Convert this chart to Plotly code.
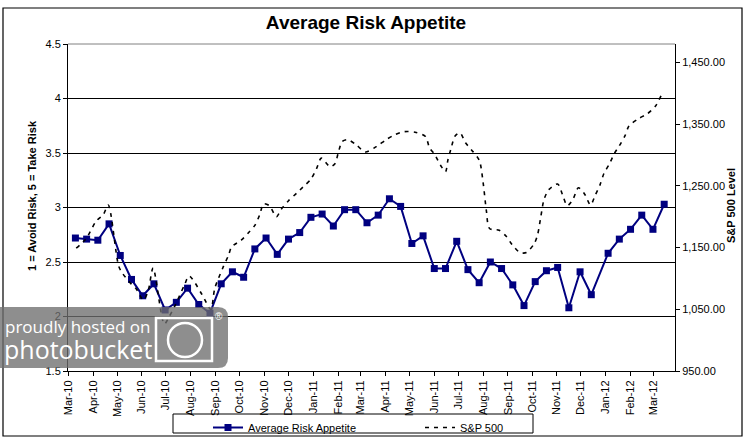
import plotly.graph_objects as go

# ---------------- data ----------------
risk_dates = [
    "2010-03-10", "2010-03-24", "2010-04-07", "2010-04-21", "2010-05-05", "2010-05-19",
    "2010-06-02", "2010-06-16", "2010-06-30", "2010-07-14", "2010-07-28", "2010-08-11",
    "2010-08-25", "2010-09-08", "2010-09-22", "2010-10-06", "2010-10-20", "2010-11-03",
    "2010-11-17", "2010-12-01", "2010-12-15", "2010-12-29",
    "2011-01-12", "2011-01-26", "2011-02-09", "2011-02-23", "2011-03-09", "2011-03-23",
    "2011-04-06", "2011-04-20", "2011-05-04", "2011-05-18", "2011-06-01", "2011-06-15",
    "2011-06-29", "2011-07-13", "2011-07-27", "2011-08-10", "2011-08-24", "2011-09-07",
    "2011-09-21", "2011-10-05", "2011-10-19", "2011-11-02", "2011-11-16", "2011-11-30",
    "2011-12-14",
    "2012-01-04", "2012-01-18", "2012-02-01", "2012-02-15", "2012-02-29", "2012-03-14",
]
risk_values = [
    2.72, 2.71, 2.70, 2.85, 2.56, 2.34, 2.19, 2.30, 2.06, 2.13, 2.26, 2.11,
    2.03, 2.30, 2.41, 2.36, 2.62, 2.72, 2.57, 2.71, 2.77, 2.91,
    2.94, 2.83, 2.98, 2.98, 2.86, 2.93, 3.08, 3.01, 2.67, 2.74, 2.44, 2.44,
    2.69, 2.43, 2.31, 2.50, 2.44, 2.29, 2.10, 2.32, 2.42, 2.45, 2.08, 2.41,
    2.20,
    2.58, 2.71, 2.80, 2.93, 2.80, 3.03,
]

sp_dates = [
    "2010-03-11", "2010-03-23", "2010-04-05", "2010-04-14", "2010-04-20", "2010-05-03",
    "2010-05-08", "2010-05-18", "2010-05-25", "2010-06-03", "2010-06-09", "2010-06-15",
    "2010-06-29", "2010-07-05", "2010-07-12", "2010-07-24", "2010-07-30", "2010-08-15",
    "2010-08-26", "2010-08-31", "2010-09-10", "2010-09-17", "2010-09-21", "2010-10-03",
    "2010-10-12", "2010-10-20", "2010-10-26", "2010-10-31", "2010-11-07", "2010-11-16",
    "2010-11-22", "2010-12-01", "2010-12-11", "2010-12-19", "2010-12-29", "2011-01-05",
    "2011-01-11", "2011-01-22", "2011-01-28", "2011-02-01", "2011-02-06", "2011-02-13",
    "2011-02-24", "2011-03-07", "2011-03-21", "2011-04-02", "2011-04-13", "2011-04-25",
    "2011-05-08", "2011-05-21", "2011-05-26", "2011-06-02", "2011-06-09", "2011-06-15",
    "2011-06-18", "2011-06-22", "2011-06-27", "2011-07-03", "2011-07-10", "2011-07-17",
    "2011-07-27", "2011-08-01", "2011-08-05", "2011-08-09", "2011-08-21", "2011-08-30",
    "2011-09-06", "2011-09-16", "2011-09-24", "2011-10-04", "2011-10-08", "2011-10-12",
    "2011-10-16", "2011-10-22", "2011-11-02", "2011-11-08", "2011-11-14", "2011-11-21",
    "2011-11-28", "2011-12-06", "2011-12-13", "2011-12-19", "2011-12-25", "2011-12-30",
    "2012-01-05", "2012-01-12", "2012-01-18", "2012-01-25", "2012-01-30", "2012-02-11",
    "2012-02-22", "2012-03-03", "2012-03-10",
]
sp_values = [
    1149, 1164, 1193, 1204, 1219, 1120,
    1108, 1092, 1083, 1065, 1081, 1117,
    1026, 1038, 1055, 1089, 1104, 1074,
    1050, 1084, 1117, 1137, 1151, 1162,
    1174, 1186, 1203, 1221, 1218, 1200,
    1212, 1226, 1238, 1248, 1261, 1278,
    1295, 1281, 1286, 1303, 1322, 1325,
    1316, 1305, 1314, 1325, 1333, 1338,
    1337, 1330, 1312, 1300, 1283, 1273,
    1292, 1311, 1331, 1336, 1320, 1309,
    1292, 1255, 1210, 1181, 1178, 1168,
    1155, 1142, 1142, 1157, 1171, 1200,
    1228, 1244, 1253, 1236, 1218, 1228,
    1247, 1236, 1219, 1235, 1252, 1271,
    1284, 1303, 1315, 1331, 1347, 1359,
    1367, 1379, 1396,
]

left_ticks = [1.5, 2, 2.5, 3, 3.5, 4, 4.5]
right_ticks = [950, 1050, 1150, 1250, 1350, 1450]

title_text = "Average Risk Appetite"
left_title = "1 = Avoid Risk, 5 = Take Risk"
right_title = "S&P 500 Level"
risk_name = "Average Risk Appetite"
sp_name = "S&P 500"

# ---------------- layout helpers ----------------
W, H = 746, 438
L, R, T, B = 68, 675, 44, 371
FONT = "Liberation Sans, Arial, sans-serif"


def px(x):
    return (x - L) / (R - L)


def py(y):
    return (B - y) / (B - T)


fig = go.Figure()

fig.add_trace(go.Scatter(
    x=risk_dates, y=risk_values, name=risk_name, mode="lines+markers",
    line=dict(color="#000080", width=2),
    marker=dict(symbol="square", size=7, color="#000080"),
    yaxis="y",
))
fig.add_trace(go.Scatter(
    x=sp_dates, y=sp_values, name=sp_name, mode="lines",
    line=dict(color="black", width=1.6, dash="4px,5px", shape="spline", smoothing=0.8),
    yaxis="y2",
))

shapes = []
# outer chart border
shapes.append(dict(type="rect", xref="paper", yref="paper",
                   x0=px(3), x1=px(742), y0=py(436), y1=py(8),
                   line=dict(color="black", width=1.2), layer="below"))
# gray plot-area top border
shapes.append(dict(type="line", xref="paper", yref="paper",
                   x0=0, x1=1, y0=1, y1=1, line=dict(color="#808080", width=1), layer="above"))
# legend box
shapes.append(dict(type="rect", xref="paper", yref="paper",
                   x0=px(173), x1=px(533), y0=py(433), y1=py(414),
                   line=dict(color="black", width=1), fillcolor="white", layer="below"))
# photobucket watermark
rr = 10
path = (f"M {px(-5)},{py(307)} L {px(228 - rr)},{py(307)} "
        f"Q {px(228)},{py(307)} {px(228)},{py(307 + rr)} "
        f"L {px(228)},{py(368 - rr)} Q {px(228)},{py(368)} {px(228 - rr)},{py(368)} "
        f"L {px(-5)},{py(368)} Z")
shapes.append(dict(type="path", xref="paper", yref="paper", path=path,
                   fillcolor="rgba(110,110,110,0.78)", line=dict(width=0), layer="above"))
shapes.append(dict(type="rect", xref="paper", yref="paper",
                   x0=px(156), x1=px(212), y0=py(361), y1=py(318),
                   line=dict(color="white", width=2.5), layer="above"))
shapes.append(dict(type="circle", xref="paper", yref="paper",
                   x0=px(168), x1=px(202), y0=py(357), y1=py(323),
                   line=dict(color="white", width=2.5), layer="above"))

annotations = [
    dict(text=f"<b>{left_title}</b>", xref="paper", yref="paper", x=px(32), y=py(196),
         xanchor="center", yanchor="middle",
         textangle=-90, showarrow=False, font=dict(family=FONT, size=11, color="black")),
    dict(text=f"<b>{right_title}</b>", xref="paper", yref="paper", x=px(731), y=py(206),
         xanchor="center", yanchor="middle",
         textangle=-90, showarrow=False, font=dict(family=FONT, size=11, color="black")),
    dict(text="proudly hosted on", xref="paper", yref="paper", x=px(3), y=py(326),
         xanchor="left", yanchor="middle", showarrow=False,
         font=dict(family="Open Sans, sans-serif", size=17, color="white")),
    dict(text="photobucket", xref="paper", yref="paper", x=px(2), y=py(349),
         xanchor="left", yanchor="middle", showarrow=False,
         font=dict(family="Open Sans, sans-serif", size=25, color="white")),
    dict(text="®", xref="paper", yref="paper", x=px(219), y=py(316),
         xanchor="center", yanchor="middle",
         showarrow=False, font=dict(family=FONT, size=10, color="white")),
]

fig.update_layout(
    width=W, height=H,
    margin=dict(l=L, r=W - R, t=T, b=H - B, pad=0, autoexpand=False),
    paper_bgcolor="white", plot_bgcolor="white",
    font=dict(family=FONT, size=11, color="black"),
    title=dict(text=f"<b>{title_text}</b>", x=366 / W, xanchor="center",
               y=1 - 22 / H, yanchor="middle",
               font=dict(family=FONT, size=19, color="black")),
    showlegend=True,
    legend=dict(orientation="h", x=px(208), xanchor="left", y=py(413), yanchor="top",
                bgcolor="rgba(0,0,0,0)", borderwidth=0, entrywidth=167,
                entrywidthmode="pixels", font=dict(family=FONT, size=11, color="black")),
    xaxis=dict(type="date", range=["2010-02-28 18:00", "2012-03-27 12:00"],
               tick0="2010-03-01", dtick="M1", tickformat="%b-%y", tickangle=-90,
               showgrid=False, showline=True, linecolor="black", linewidth=1,
               ticks="outside", ticklen=4, tickcolor="black", zeroline=False,
               tickfont=dict(family=FONT, size=11, color="black")),
    yaxis=dict(range=[1.5, 4.5], tickvals=left_ticks, ticktext=[f"{v:g}" for v in left_ticks],
               showgrid=True, gridcolor="black", gridwidth=1,
               showline=True, linecolor="black", linewidth=1, zeroline=False,
               ticks="outside", ticklen=4, tickcolor="black",
               tickfont=dict(family=FONT, size=11, color="black")),
    yaxis2=dict(range=[950, 1480], overlaying="y", side="right", tickvals=right_ticks,
                tickformat=",.2f", showgrid=False, zeroline=False,
                showline=True, linecolor="black", linewidth=1,
                ticks="outside", ticklen=4, tickcolor="black",
                tickfont=dict(family=FONT, size=11, color="black")),
    shapes=shapes,
    annotations=annotations,
)

fig.write_html("out.html", config={"displayModeBar": False},
               post_script="document.body.style.margin='0';document.body.style.overflow='hidden';")
